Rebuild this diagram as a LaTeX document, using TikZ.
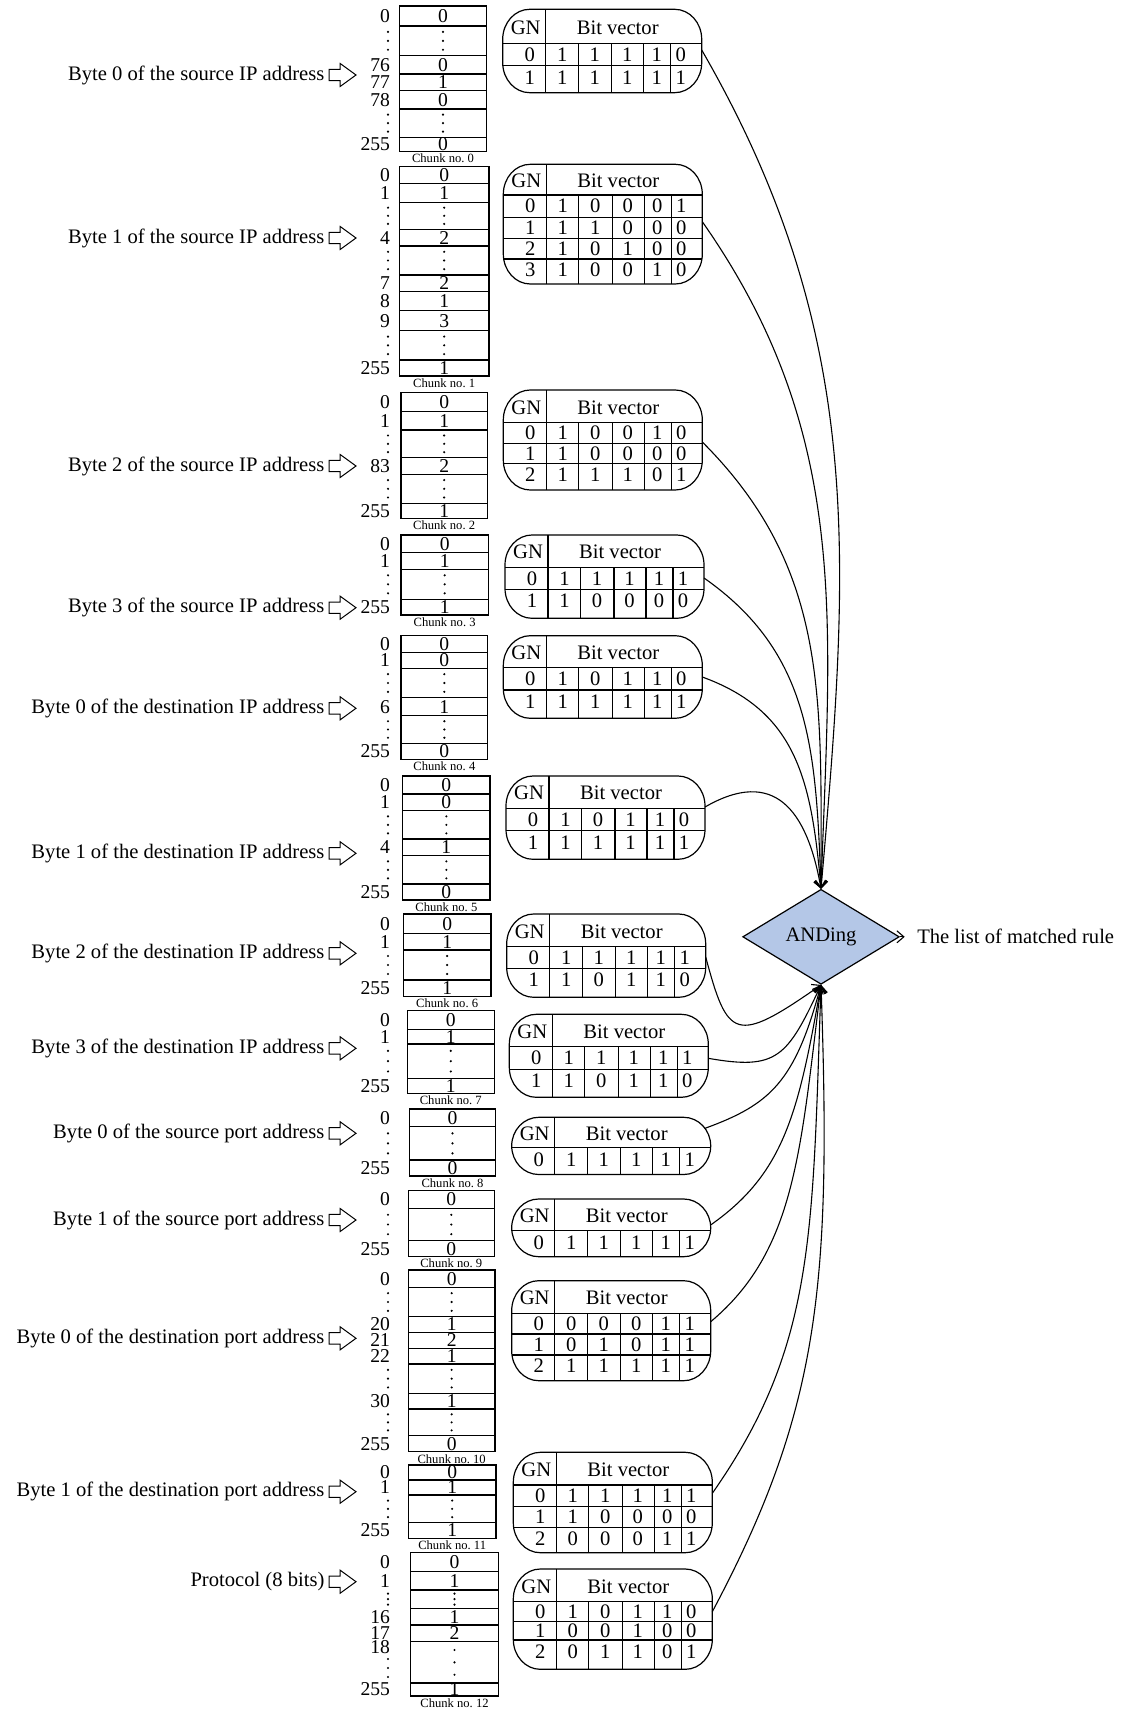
\documentclass[tikz,border=0pt]{standalone}
\usepackage{fontspec}
\setmainfont{Liberation Serif}
\usetikzlibrary{shapes.geometric,shapes.arrows,arrows.meta}
\definecolor{andfill}{RGB}{180,199,231}
\tikzset{
  num/.style={inner sep=0pt, font=\fontsize{10.3}{12}\selectfont},
  idx/.style={inner sep=0pt, font=\fontsize{9.8}{11}\selectfont},
  lbl/.style={inner sep=0pt, font=\fontsize{10.3}{12}\selectfont, anchor=east},
  chunklbl/.style={inner sep=0pt, font=\fontsize{6.3}{7}\selectfont},
  harrow/.style={single arrow, draw, fill=white, line width=0.5pt, minimum height=13.5pt,
    inner sep=2.6pt, single arrow head extend=2.9pt, single arrow tip angle=72, anchor=tail},
  conn/.style={line width=0.55pt, -{Straight Barb[length=3.5pt,width=6pt]}},
  andbox/.style={diamond, draw, fill=andfill, line width=0.6pt, minimum width=78.3pt,
    minimum height=47.5pt, inner sep=0pt, font=\fontsize{10.3}{12}\selectfont},
}
\def\dmark{D}
% three dots of an elided range of rows
\newcommand\dotcol[3]{\foreach \f in {0.2,0.5,0.8} {\fill (#1,{#2+\f*(#3-#2)}) circle[radius=0.6pt];}}
% lookup chunk: name, left, right, top, bottom, row lines, rows (top/bottom/index/value), number
\newcommand\chunk[8]{%
  \node[draw, inner sep=0pt, outer sep=0pt, anchor=north west,
        minimum width={(#3-#2)*0.5pt}, minimum height={(#5-#4)*0.5pt}] (#1) at (#2,#4) {};
  \foreach \y in {#6} \draw (#2,\y) -- (#3,\y);
  \pgfmathsetmacro\chX{(#2+#3)/2}
  \foreach \ya/\yb/\ix/\vl [count=\k] in {#7} {
    \pgfmathsetmacro\ym{(\ya+\yb)/2}
    \edef\tmp{\ix}
    \ifx\tmp\dmark \dotcol{388}{\ya}{\yb}\else\ifx\tmp\empty\else
      \node[idx, anchor=east] (#1-i\k) at (390.5,\ym) {\ix};\fi\fi
    \edef\tmp{\vl}
    \ifx\tmp\dmark \dotcol{\chX}{\ya}{\yb}\else\ifx\tmp\empty\else
      \node[idx] (#1-v\k) at (\chX,\ym) {\vl};\fi\fi
  }
  \node[chunklbl] (#1-cap) at (\chX,#5+7) {Chunk no.~#8};
}
% bit-vector table: name, left, top, bottom, header line, row lines, rows (y/gn/b1..b5), exit y
\newcommand\bvtable[8]{%
  \pgfmathsetmacro\tbL{#2}
  \pgfmathsetmacro\tbR{#2+199}
  \pgfmathsetmacro\tbRy{min((#4-#3)/2,30)}
  \pgfmathsetmacro\tbXla{#2+27}
  \pgfmathsetmacro\tbXra{#2+172}
  \pgfmathsetmacro\tbXlc{#2+27-0.5523*27}
  \pgfmathsetmacro\tbXrc{#2+172+0.5523*27}
  \pgfmathsetmacro\tbYta{#3+\tbRy}
  \pgfmathsetmacro\tbYtc{#3+\tbRy-0.5523*\tbRy}
  \pgfmathsetmacro\tbYba{#4-\tbRy}
  \pgfmathsetmacro\tbYbc{#4-\tbRy+0.5523*\tbRy}
  \def\tbShape{(\tbXla,#3) -- (\tbXra,#3) .. controls (\tbXrc,#3) and (\tbR,\tbYtc) .. (\tbR,\tbYta)
    -- (\tbR,\tbYba) .. controls (\tbR,\tbYbc) and (\tbXrc,#4) .. (\tbXra,#4)
    -- (\tbXla,#4) .. controls (\tbXlc,#4) and (\tbL,\tbYbc) .. (\tbL,\tbYba)
    -- (\tbL,\tbYta) .. controls (\tbL,\tbYtc) and (\tbXlc,#3) .. (\tbXla,#3) -- cycle}
  \begin{scope}
    \clip \tbShape;
    \draw (\tbL,#5) -- (\tbR,#5);
    \foreach \y in {#6} \draw (\tbL,\y) -- (\tbR,\y);
    \draw (#2+43,#3) -- (#2+43,#4);
    \foreach \dx in {75.5,109,141,168} \draw (#2+\dx,#5) -- (#2+\dx,#4);
  \end{scope}
  \draw \tbShape;
  \node[num] (#1-gn) at (#2+23,{(#3+#5)/2+1}) {GN};
  \node[num] (#1-bv) at (#2+115,{(#3+#5)/2+1}) {Bit vector};
  \foreach \yc/\qg/\qa/\qb/\qc/\qd/\qe [count=\k] in {#7} {
    \node[num] (#1-\k-g) at (#2+27,\yc) {\qg};
    \node[num] (#1-\k-a) at (#2+59.5,\yc) {\qa};
    \node[num] (#1-\k-b) at (#2+92,\yc) {\qb};
    \node[num] (#1-\k-c) at (#2+124.5,\yc) {\qc};
    \node[num] (#1-\k-d) at (#2+154,\yc) {\qd};
    \node[num] (#1-\k-e) at (#2+178,\yc) {\qe};
  }
  \pgfmathsetmacro\tbDy{max(0,max(\tbYta-#8,#8-\tbYba))}
  \pgfmathsetmacro\tbEx{\tbXra+27*sqrt(max(0,1-(\tbDy/\tbRy)^2))}
  \coordinate (#1) at (\tbEx,#8);
}
% curved connector: from, to, out angle, in angle, out distance, in distance
\newcommand\link[6]{\draw[conn] (#1) .. controls ([shift={({#5*cos(#3)},{-#5*sin(#3)})}]#1)
  and ([shift={({#6*cos(#4)},{-#6*sin(#4)})}]#2) .. (#2);}

\begin{document}
\begin{tikzpicture}[x=0.5pt,y=-0.5pt,line width=0.6pt]
\useasboundingbox (0,0) rectangle (1127,1711);

% ---------- chunks ----------
\chunk{c0}{399.3}{486.7}{6}{151.7}{26,55.7,74,90.7,109,137.3}
  {6/26/0/0, 26/55.7/D/D, 55.7/74/76/0, 74/90.7/77/1, 90.7/109/78/0, 109/137.3/D/D, 137.3/151.7/255/0}{0}
\draw[line width=1.1pt] (399.3,74) -- (486.7,74);
\chunk{c1}{399.3}{489}{166.7}{376}{183.3,202.3,229.3,246,275,291.7,310.7,330.7,360}
  {166.7/183.3/0/0, 183.3/202.3/1/1, 202.3/229.3/D/D, 229.3/246/4/2, 246/275/D/D, 275/291.7/7/2,
   291.7/310.7/8/1, 310.7/330.7/9/3, 330.7/360/D/D, 360/376/255/1}{1}
\chunk{c2}{401}{487.3}{392.7}{518.3}{411.7,430,457.7,474.3,503.3}
  {392.7/411.7/0/0, 411.7/430/1/1, 430/457.7/D/D, 457.7/474.3/83/2, 474.3/503.3/D/D, 503.3/518.3/255/1}{2}
\chunk{c3}{401}{488.3}{535}{615}{552.7,569.3,599.3}
  {535/552.7/0/0, 552.7/569.3/1/1, 569.3/599.3/D/D, 599.3/615/255/1}{3}
\chunk{c4}{401}{487.7}{635.7}{759.3}{652.3,668.3,697.7,715.7,743.3}
  {635.7/652.3/0/0, 652.3/668.3/1/0, 668.3/697.7/D/D, 697.7/715.7/6/1, 715.7/743.3/D/D, 743.3/759.3/255/0}{4}
\chunk{c5}{402.7}{490}{776}{900}{794,810.7,839,855.7,884}
  {776/794/0/0, 794/810.7/1/0, 810.7/839/D/D, 839/855.7/4/1, 855.7/884/D/D, 884/900/255/0}{5}
\chunk{c6}{403.3}{491}{914}{996.7}{933.3,950,980}
  {914/933.3/0/0, 933.3/950/1/1, 950/980/D/D, 980/996.7/255/1}{6}
\chunk{c7}{407.3}{494.3}{1010.7}{1093.3}{1029.3,1044,1078.3}
  {1010.7/1029.3/0/0, 1029.3/1044/1/1, 1044/1078.3/D/D, 1078.3/1093.3/255/1}{7}
\chunk{c8}{409.3}{495.7}{1109}{1176}{1126.7,1160}
  {1109/1126.7/0/0, 1126.7/1160/D/D, 1160/1176/255/0}{8}
\chunk{c9}{408.3}{494.3}{1190.7}{1256.7}{1208.3,1240.7}
  {1190.7/1208.3/0/0, 1208.3/1240.7/D/D, 1240.7/1256.7/255/0}{9}
\chunk{c10}{408.3}{495}{1270}{1451.7}{1287.3,1316.7,1332.3,1348.3,1364,1393.3,1409,1435.7}
  {1270/1287.3/0/0, 1287.3/1316.7/D/D, 1316.7/1332.3/20/1, 1332.3/1348.3/21/2, 1348.3/1364/22/1,
   1364/1393.3/D/D, 1393.3/1409/30/1, 1409/1435.7/D/D, 1435.7/1451.7/255/0}{10}
\chunk{c11}{408.3}{496}{1465}{1538.3}{1480,1495,1522.7}
  {1465/1480/0/0, 1480/1495/1/1, 1495/1522.7/D/D, 1522.7/1538.3/255/1}{11}
\chunk{c12}{410.7}{498.3}{1552.3}{1696}{1571.7,1590,1608.3,1625,1641.7,1683}
  {1552.3/1571.7/0/0, 1571.7/1590/1/1, 1590/1608.3/D/D, 1608.3/1625/16/1, 1625/1641.7/17/2,
   1641.7/1653/18/, 1653/1683/D/, 1641.7/1683//D, 1683/1696/255/1}{12}

% ---------- field labels ----------
\foreach \yy/\txt [count=\k from 0] in {
  75/Byte 0 of the source IP address,
  238/Byte 1 of the source IP address,
  466/Byte 2 of the source IP address,
  607.7/Byte 3 of the source IP address,
  708.3/Byte 0 of the destination IP address,
  853.3/Byte 1 of the destination IP address,
  953.3/Byte 2 of the destination IP address,
  1048.3/Byte 3 of the destination IP address,
  1133.3/Byte 0 of the source port address,
  1220/Byte 1 of the source port address,
  1338.3/Byte 0 of the destination port address,
  1491.7/Byte 1 of the destination port address,
  1581.7/Protocol (8 bits)} {
  \node[lbl] (lbl\k) at (325,\yy) {\txt};
  \node[harrow] (arr\k) at (328.5,\yy) {};
}

% ---------- bit-vector tables ----------
\bvtable{t0}{502.7}{9.3}{92.7}{43.3}{65.7}
  {54.5/0/1/1/1/1/0, 77.5/1/1/1/1/1/1}{50}
\bvtable{t1}{503.3}{164.3}{284}{195}{217.3,238.3,259}
  {206/0/1/0/0/0/1, 227.8/1/1/1/0/0/0, 248.7/2/1/0/1/0/0, 270/3/1/0/0/1/0}{221.7}
\bvtable{t2}{503.3}{390}{490}{422.7}{443.3,463.3}
  {433/0/1/0/0/1/0, 453.3/1/1/0/0/0/0, 474.5/2/1/1/1/0/1}{442}
\bvtable{t3}{505}{535}{618.3}{567.3}{589.3}
  {578.3/0/1/1/1/1/1, 601/1/1/0/0/0/0}{578}
\bvtable{t4}{503.3}{635.7}{718.3}{667.7}{690}
  {678.8/0/1/0/1/1/0, 701.5/1/1/1/1/1/1}{677}
\bvtable{t5}{506}{776}{859.3}{808.3}{830.7}
  {819.5/0/1/0/1/1/0, 842.5/1/1/1/1/1/1}{807}
\bvtable{t6}{506.7}{914}{997.3}{946.7}{968.3}
  {957.5/0/1/1/1/1/1, 980/1/1/0/1/1/0}{957}
\bvtable{t7}{509.3}{1014.3}{1097.3}{1046.7}{1069.3}
  {1058/0/1/1/1/1/1, 1081/1/1/0/1/1/0}{1058.3}
\bvtable{t8}{511.7}{1117.3}{1174.5}{1147.3}{1147.3}
  {1160/0/1/1/1/1/1}{1128.3}
\bvtable{t9}{511.7}{1199}{1256.7}{1230.7}{1230.7}
  {1243/0/1/1/1/1/1}{1225}
\bvtable{t10}{511.7}{1280.7}{1380.7}{1313.3}{1334,1355}
  {1323.7/0/0/0/0/1/1, 1344.5/1/0/1/0/1/1, 1366/2/1/1/1/1/1}{1321.7}
\bvtable{t11}{513.3}{1452.3}{1552.7}{1485}{1506.7,1527.3}
  {1495.8/0/1/1/1/1/1, 1517/1/1/0/0/0/0, 1538.5/2/0/0/0/1/1}{1493.3}
\bvtable{t12}{513.3}{1569}{1669.3}{1601.7}{1621.7,1640}
  {1611.7/0/1/0/1/1/0, 1630.8/1/0/0/1/0/0, 1652/2/0/1/1/0/1}{1611.7}

% ---------- ANDing stage ----------
\node[andbox] (and) at (821,936.8) {ANDing};
\node[num, anchor=west, inner xsep=6pt] (res) at (904.7,936.8) {The list of matched rule};
\draw[conn] (and.east) -- (res.west);

\link{t0}{and.north}{-60}{85}{330}{330}
\link{t1}{and.north}{-55}{88}{260}{270}
\link{t2}{and.north}{-45}{90}{180}{190}
\link{t3}{and.north}{-35}{92}{130}{140}
\link{t4}{and.north}{-20}{95}{100}{110}
\link{t5}{and.north}{30}{100}{80}{80}
\link{t6}{and.south}{-75}{-145}{85}{105}
\link{t7}{and.south}{-10}{-115}{70}{80}
\link{t8}{and.south}{20}{-105}{70}{100}
\link{t9}{and.south}{35}{-100}{90}{130}
\link{t10}{and.south}{40}{-97}{110}{170}
\link{t11}{and.south}{55}{-92}{180}{250}
\link{t12}{and.south}{62}{-88}{230}{300}
\end{tikzpicture}
\end{document}
